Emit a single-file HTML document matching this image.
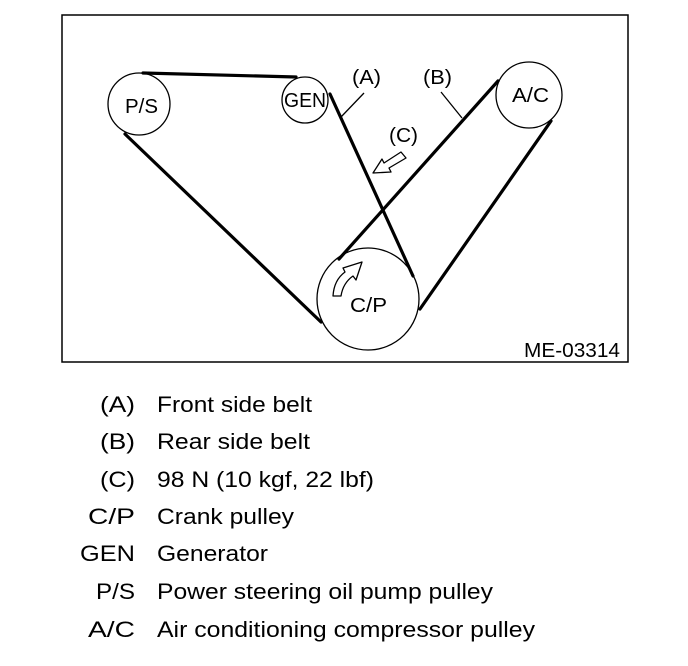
<!DOCTYPE html>
<html><head><meta charset="utf-8"><style>
html,body{margin:0;padding:0;background:#fff;}
svg{display:block;}
text{font-family:"Liberation Sans",Arial,sans-serif;fill:#000;}
</style></head><body>
<svg width="688" height="666" viewBox="0 0 688 666" xmlns="http://www.w3.org/2000/svg">
<rect x="62" y="15" width="566" height="347" fill="none" stroke="#000" stroke-width="1.5"/>
<g fill="none" stroke="#000" stroke-width="1.3">
<circle cx="139" cy="104" r="31"/>
<circle cx="305" cy="100" r="23"/>
<circle cx="529" cy="95" r="33"/>
<circle cx="368" cy="299" r="51"/>
</g>
<g stroke="#000" stroke-width="3.2" stroke-linecap="round">
<line x1="143" y1="73" x2="296" y2="77"/>
<line x1="125" y1="134" x2="321" y2="322"/>
<line x1="330" y1="94" x2="413" y2="276"/>
<line x1="339" y1="259" x2="498" y2="81"/>
<line x1="551" y1="121" x2="420" y2="309"/>
</g>
<g stroke="#000" stroke-width="1.3">
<line x1="341" y1="117" x2="364" y2="93"/>
<line x1="462" y1="118" x2="441" y2="92"/>
</g>
<polygon points="373,173 382,159 384,163 401,152 406,158 389,168 391,172" fill="#fff" stroke="#000" stroke-width="1.3" stroke-linejoin="round"/>
<path d="M333,296 Q334,280 345,272 L343,268 L362,262 L356,280 L353,276 Q343,283 341,296 Z" fill="#fff" stroke="#000" stroke-width="1.3" stroke-linejoin="round"/>
<g font-size="20">
<text x="125" y="113" textLength="33" lengthAdjust="spacingAndGlyphs">P/S</text>
<text x="284" y="107" textLength="42" lengthAdjust="spacingAndGlyphs">GEN</text>
<text x="512" y="102" textLength="37" lengthAdjust="spacingAndGlyphs">A/C</text>
<text x="350" y="312" textLength="37" lengthAdjust="spacingAndGlyphs">C/P</text>
<text x="352" y="84" textLength="29" lengthAdjust="spacingAndGlyphs">(A)</text>
<text x="423" y="84" textLength="29" lengthAdjust="spacingAndGlyphs">(B)</text>
<text x="389" y="142" textLength="29" lengthAdjust="spacingAndGlyphs">(C)</text>
<text x="524" y="357" textLength="96" lengthAdjust="spacingAndGlyphs">ME-03314</text>
</g>
<g font-size="22">
<text x="100" y="412" textLength="35" lengthAdjust="spacingAndGlyphs">(A)</text><text x="157" y="412" textLength="155" lengthAdjust="spacingAndGlyphs">Front side belt</text>
<text x="100" y="449" textLength="35" lengthAdjust="spacingAndGlyphs">(B)</text><text x="157" y="449" textLength="153" lengthAdjust="spacingAndGlyphs">Rear side belt</text>
<text x="100" y="487" textLength="35" lengthAdjust="spacingAndGlyphs">(C)</text><text x="157" y="487" textLength="217" lengthAdjust="spacingAndGlyphs">98 N (10 kgf, 22 lbf)</text>
<text x="88" y="524" textLength="47" lengthAdjust="spacingAndGlyphs">C/P</text><text x="157" y="524" textLength="137" lengthAdjust="spacingAndGlyphs">Crank pulley</text>
<text x="80" y="561" textLength="55" lengthAdjust="spacingAndGlyphs">GEN</text><text x="157" y="561" textLength="111" lengthAdjust="spacingAndGlyphs">Generator</text>
<text x="96" y="599" textLength="39" lengthAdjust="spacingAndGlyphs">P/S</text><text x="157" y="599" textLength="336" lengthAdjust="spacingAndGlyphs">Power steering oil pump pulley</text>
<text x="88" y="637" textLength="47" lengthAdjust="spacingAndGlyphs">A/C</text><text x="157" y="637" textLength="378" lengthAdjust="spacingAndGlyphs">Air conditioning compressor pulley</text>
</g>
</svg>
</body></html>
